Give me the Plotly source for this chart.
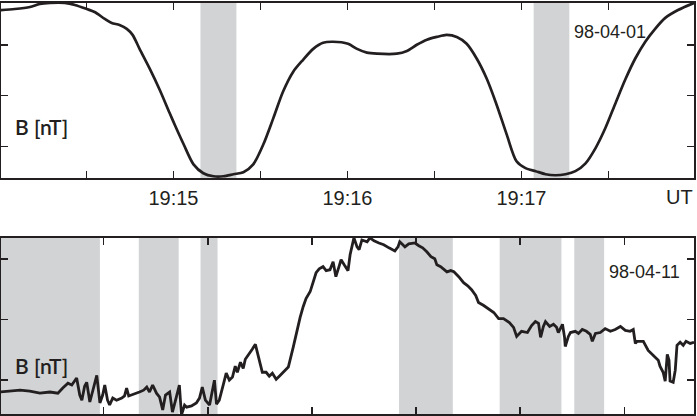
import plotly.graph_objects as go

# ---------- top panel (98-04-01): time in s after 19:14:00, B in nT ----------
top_t = [0.5, 5.3, 10.5, 13.9, 17.4, 22.5, 26.0, 30.1, 32.8, 36.3, 38.7, 41.4, 43.9, 45.9,
         48.3, 51.8, 55.2, 58.6, 60.7, 63.5, 66.9, 70.3, 73.8, 77.2, 80.7, 84.1, 87.5,
         91.0, 94.4, 97.8, 101.3, 104.7, 108.2, 111.6, 115.0, 120.2, 123.3, 126.7, 130.2,
         137.0, 140.5, 143.9, 147.4, 150.8, 154.2, 157.7, 161.1, 164.6, 168.0, 171.4,
         174.9, 178.3, 181.4, 184.9, 188.3, 191.7, 195.2, 198.6, 202.1, 205.5, 208.9,
         212.4, 215.8, 219.2, 222.7, 226.1, 229.6, 234.0, 239.5]
top_b = [73.7, 74.1, 74.9, 76.1, 76.5, 76.5, 75.7, 74.1, 72.9, 70.2, 68.6, 67.8, 66.3, 63.9,
         58.4, 50.6, 42.4, 33.3, 27.8, 20.8, 12.9, 9.4, 8.2, 8.2, 9.0, 9.8, 12.9,
         20.8, 31.0, 41.6, 49.4, 54.1, 58.4, 60.8, 61.2, 60.4, 58.4, 56.9, 56.5,
         56.5, 57.6, 60.0, 62.0, 63.1, 63.9, 63.1, 60.4, 54.5, 46.7, 36.5,
         24.7, 14.1, 11.4, 10.2, 9.0, 8.6, 9.0, 10.2, 13.3, 19.2, 27.1,
         36.9, 46.3, 54.5, 61.2, 66.3, 70.6, 73.7, 76.5]
top_shade = [(69.3, 81.7), (184.2, 196.5)]
top_tickvals = [30, 60, 90, 120, 150, 180, 210]
top_ticktext = ["", "19:15", "", "19:16", "", "19:17", ""]

# ---------- bottom panel (98-04-11) ----------
bot_t = [0.1, 3.0, 5.9, 8.7, 11.6, 14.5, 16.8, 18.2, 19.7, 20.8, 22.2, 23.1, 23.7, 24.5, 25.1,
         26.0, 26.8, 28.0, 28.9, 29.7, 30.3, 31.1, 31.7, 32.6, 33.7, 35.2, 36.0, 36.6, 37.2,
         38.9, 40.3, 41.5, 42.4, 43.2, 44.1, 45.2, 46.1, 47.0, 47.8, 49.0, 49.8, 50.7, 51.8,
         52.4, 53.3, 53.9, 55.3, 56.7, 57.6, 58.4, 59.3, 60.5, 61.3, 61.9, 62.5, 63.3, 64.5,
         65.3, 66.2, 67.1, 67.9, 68.5, 69.4, 70.2, 70.8, 71.9, 72.8, 73.7, 74.8, 75.7, 76.8,
         77.7, 78.6, 79.7, 80.6, 81.7, 83.2, 84.6, 85.5, 86.6, 87.5, 88.3, 89.5, 90.3, 91.2,
         92.1, 93.2, 94.1, 95.2, 96.1, 96.9, 97.8, 98.4, 99.3, 100.4, 101.0, 101.6, 102.1,
         103.0, 103.6, 104.4, 105.3, 105.9, 106.7, 107.9, 109.3, 110.7, 112.2, 113.9, 114.8,
         115.3, 116.2, 116.8, 117.9, 119.7, 120.8, 121.9, 123.1, 124.3, 125.4, 126.0, 127.1,
         128.9, 130.0, 130.9, 132.3, 133.7, 134.9, 136.0, 137.2, 138.0, 139.5, 141.2, 142.4,
         143.8, 145.2, 146.9, 148.1, 149.0, 150.4, 152.1, 153.3, 154.4, 155.3, 155.9, 156.7,
         157.3, 158.5, 159.6, 160.5, 161.0, 161.6, 162.2, 162.8, 163.0, 163.9, 164.5, 165.9,
         166.8, 167.9, 169.1, 170.2, 170.8, 171.7, 173.1, 174.5, 176.0, 177.4, 178.9, 180.3,
         181.7, 182.6, 183.2, 183.7, 185.5, 186.9, 188.3, 189.8, 190.3, 191.2, 191.8, 192.4,
         192.9, 193.2, 194.1, 194.7, 195.2, 196.1, 197.0, 197.8, 199.0, 200.1]
bot_b = [16.1, 16.4, 16.7, 16.4, 15.7, 16.1, 15.7, 17.4, 19.0, 18.4, 20.7, 15.1, 13.4, 18.0, 19.3,
         12.8, 16.7, 21.6, 12.5, 15.1, 18.4, 13.4, 11.8, 14.1, 13.4, 14.1, 14.8, 17.4, 14.8,
         15.4, 16.1, 16.7, 17.7, 16.1, 18.4, 15.7, 14.4, 10.2, 15.1, 16.1, 9.5, 13.4, 18.4,
         8.5, 11.8, 11.1, 11.5, 12.5, 14.1, 17.7, 13.4, 11.8, 16.1, 20.0, 12.1, 13.4, 18.7,
         22.3, 20.0, 21.0, 24.6, 22.6, 25.9, 23.9, 26.9, 28.5, 30.2, 31.8, 26.6, 22.6, 22.6,
         21.3, 22.3, 20.3, 21.3, 22.6, 24.3, 30.8, 35.4, 40.7, 44.3, 46.9, 49.2, 52.5, 55.4,
         56.7, 57.4, 56.1, 56.4, 59.0, 54.1, 57.4, 59.7, 58.0, 56.1, 61.3, 64.6, 66.9,
         63.9, 63.0, 66.2, 65.9, 65.6, 66.9, 65.9, 65.2, 64.6, 63.6, 62.6, 63.9,
         65.6, 64.6, 63.9, 64.9, 65.2, 64.3, 63.6, 62.3, 60.7, 60.0, 58.0, 57.4,
         55.7, 56.1, 55.7, 54.1, 52.1, 51.1, 49.8, 47.9, 45.6, 44.6, 43.3, 42.3,
         40.3, 40.3, 39.0, 37.4, 34.4, 36.1, 35.7, 38.0, 39.3, 38.7, 34.1, 37.7,
         39.3, 37.7, 38.4, 37.4, 35.7, 37.0, 38.4, 34.1, 31.1, 34.4, 35.7, 36.1,
         35.4, 36.7, 36.1, 35.1, 32.8, 35.4, 35.7, 37.0, 36.1, 36.7, 37.7, 36.4,
         36.1, 36.7, 32.1, 32.8, 32.8, 29.8, 28.2, 26.6, 24.6, 22.6, 19.7, 28.5,
         26.6, 19.7, 19.3, 23.3, 31.5, 32.5, 31.5, 32.8, 32.1, 32.5]
bot_shade = [(0.0, 28.9), (40.1, 51.6), (57.9, 62.8), (115.1, 130.6), (144.1, 161.9), (165.6, 174.2)]
bot_tickvals = [30, 60, 90, 120, 150, 180]
y_tickvals = [20, 40, 60]

INK = "#231f20"
SHADE = "#d1d3d4"
W, H = 697, 416

fig = go.Figure()
fig.add_trace(go.Scatter(x=top_t, y=top_b, mode="lines", xaxis="x", yaxis="y",
                         line=dict(color=INK, width=2.7, shape="spline", smoothing=0.8),
                         showlegend=False, hoverinfo="skip"))
fig.add_trace(go.Scatter(x=bot_t, y=bot_b, mode="lines", xaxis="x2", yaxis="y2",
                         line=dict(color=INK, width=2.8), showlegend=False, hoverinfo="skip"))

shapes = []
for a, b in top_shade:
    shapes.append(dict(type="rect", xref="x", yref="y domain", x0=a, x1=b, y0=0, y1=1,
                       fillcolor=SHADE, line=dict(width=0), layer="below"))
for a, b in bot_shade:
    shapes.append(dict(type="rect", xref="x2", yref="y2 domain", x0=a, x1=b, y0=0, y1=1,
                       fillcolor=SHADE, line=dict(width=0), layer="below"))

axis_common = dict(showline=True, linewidth=2, linecolor=INK, mirror="ticks",
                   ticks="inside", ticklen=7, tickwidth=1.5, tickcolor=INK,
                   showgrid=False, zeroline=False)

top_dom = [(414 - 177) / 413, 1.0]
bot_dom = [0.0, (414 - 237) / 413]

label_font = dict(family="Lato", size=21, color=INK, weight=600)

fig.update_layout(
    width=W, height=H,
    margin=dict(l=1, r=1, t=1, b=2),
    paper_bgcolor="white", plot_bgcolor="white",
    shapes=shapes,
    xaxis=dict(domain=[0, 1], range=[0.52, 239.5], tickvals=top_tickvals, ticktext=top_ticktext,
               tickfont=dict(family="Liberation Sans, Arial", size=20, color=INK),
               ticklabelstandoff=1, anchor="y", **axis_common),
    yaxis=dict(domain=top_dom, range=[7.45, 76.47], tickvals=y_tickvals, showticklabels=False,
               anchor="x", **axis_common),
    xaxis2=dict(domain=[0, 1], range=[0.4, 200.1], tickvals=bot_tickvals, showticklabels=False,
                anchor="y2", **axis_common),
    yaxis2=dict(domain=bot_dom, range=[8.85, 66.89], tickvals=y_tickvals, showticklabels=False,
                anchor="x2", **axis_common),
    annotations=[
        dict(text="UT", xref="paper", yref="paper", x=(681 - 1) / 695, y=(414 - 196) / 413,
             xanchor="center", yanchor="middle", showarrow=False,
             font=dict(family="Liberation Sans, Arial", size=20, color=INK)),
        dict(text="98-04-01", xref="paper", yref="paper", x=(574 - 1) / 695, y=(414 - 30) / 413,
             xanchor="left", yanchor="middle", showarrow=False,
             font=dict(family="Liberation Sans, Arial", size=18, color=INK)),
        dict(text="98-04-11", xref="paper", yref="paper", x=(609 - 1) / 695, y=(414 - 271) / 413,
             xanchor="left", yanchor="middle", showarrow=False,
             font=dict(family="Liberation Sans, Arial", size=18, color=INK)),
        dict(text="B [nT]", xref="paper", yref="paper", x=(13 - 1) / 695, y=(414 - 125) / 413,
             xanchor="left", yanchor="middle", showarrow=False, font=label_font),
        dict(text="B [nT]", xref="paper", yref="paper", x=(13 - 1) / 695, y=(414 - 365) / 413,
             xanchor="left", yanchor="middle", showarrow=False, font=label_font),
    ],
)

fig.write_html("out.html", config={"displayModeBar": False, "staticPlot": True},
               post_script="document.body.style.margin='0';document.body.style.overflow='hidden';")
